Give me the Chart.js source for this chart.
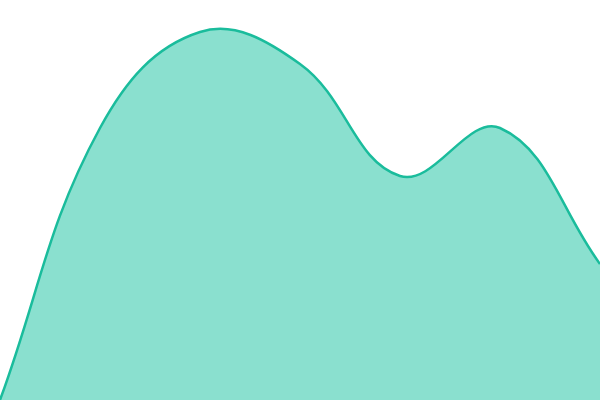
<!DOCTYPE html>
<html>
<head>
<meta charset="utf-8">
<script src="https://cdn.jsdelivr.net/npm/chart.js@4"></script>
<style>
  html, body { margin: 0; padding: 0; background: #fff; }
  #wrap { width: 600px; height: 400px; }
</style>
</head>
<body>
<div id="wrap"><canvas id="areaChart"></canvas></div>
<script>
// Chart data
const labels = ["1", "2", "3", "4", "5", "6", "7"];
const values = [0, 68, 92, 84, 56, 68, 34];

document.addEventListener("DOMContentLoaded", function () {
  drawAreaChart();
});

/**
 * Draws a full-bleed smooth area chart with no axes
 */
function drawAreaChart() {
  const ctx = document.getElementById("areaChart").getContext("2d");

  new Chart(ctx, {
    type: "line",
    data: {
      labels: labels,
      datasets: [
        {
          data: values,
          borderColor: "#1abc9c",
          backgroundColor: "#8ae0cf",
          borderWidth: 2.5,
          fill: true,
          tension: 0.4,
          pointRadius: 0,
        },
      ],
    },
    options: {
      responsive: true,
      maintainAspectRatio: false,
      animation: false,
      layout: { padding: 0 },
      plugins: {
        legend: { display: false },
        tooltip: { enabled: false },
      },
      scales: {
        x: { display: false, offset: false },
        y: { display: false, min: 0, max: 100 },
      },
    },
  });
}
</script>
</body>
</html>
